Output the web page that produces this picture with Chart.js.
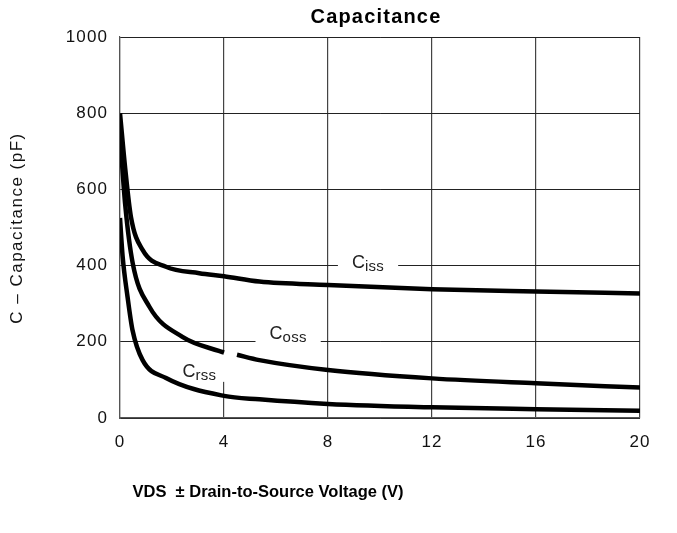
<!DOCTYPE html>
<html>
<head>
<meta charset="utf-8">
<script src="https://cdn.jsdelivr.net/npm/chart.js@4/dist/chart.umd.min.js"></script>
<style>
  html, body { margin: 0; padding: 0; background: #fff; }
  #wrap { width: 677px; height: 533px; }
</style>
</head>
<body>
<div id="wrap"><canvas id="cap" width="677" height="533"></canvas></div>
<script>
// values (x = VDS in V, y = capacitance in pF)
const cissV = [0, 0.2, 0.42, 0.87, 1.77, 3.05, 4, 5.36, 8, 12, 16, 20];
const cissC = [800, 655, 528, 441, 397, 380, 372, 358, 349, 338, 332, 327];

const cossV = [0, 0.2, 0.49, 1.13, 2.4, 3.8, 4.0, 4.25, 4.5, 5.36, 8, 12, 16, 20];
const cossC = [743, 560, 406, 292, 213, 176, 172, null, 166, 152, 126, 104, 91, 80];

const crssV = [0, 0.1, 0.29, 0.48, 0.87, 1.77, 4, 5.36, 8, 12, 16, 20];
const crssC = [525, 425, 318, 231, 152, 105, 58, 49, 37, 28, 23, 19];

const xTicks = [0, 4, 8, 12, 16, 20];
const yTicks = [0, 200, 400, 600, 800, 1000];

// curve labels: main letter, subscript, anchor (V, pF)
const labelMain = ['C', 'C', 'C'];
const labelSub = ['iss', 'oss', 'rss'];
const labelV = [8.92, 5.75, 2.4];
const labelC = [394, 207, 108];

const FONT = '"Liberation Sans", Arial, Helvetica, sans-serif';

const toPts = (xs, ys) => xs.map((v, i) => ({ x: v, y: ys[i] }));

const lineStyle = {
  borderColor: '#000',
  borderWidth: 4.5,
  pointRadius: 0,
  fill: false,
  cubicInterpolationMode: 'monotone',
  spanGaps: false
};

const textPlugin = {
  id: 'capText',
  beforeDraw(chart) {
    chart.ctx.letterSpacing = '1.1px';
  },
  beforeDatasetsDraw(chart) {
    const { ctx, scales: { x, y } } = chart;
    ctx.save();
    ctx.textBaseline = 'alphabetic';
    ctx.textAlign = 'left';
    labelMain.forEach((m, i) => {
      const px = x.getPixelForValue(labelV[i]);
      const py = y.getPixelForValue(labelC[i]);
      ctx.letterSpacing = '0px';
      ctx.font = '18px ' + FONT;
      const w1 = ctx.measureText(m).width;
      ctx.font = '15px ' + FONT;
      ctx.letterSpacing = '0.3px';
      const w2 = ctx.measureText(labelSub[i]).width;
      // white patch that breaks the grid lines under the label
      ctx.fillStyle = '#fff';
      ctx.fillRect(px - 14, py - 24, w1 + w2 + 28, 29);
      ctx.fillStyle = '#222';
      ctx.letterSpacing = '0px';
      ctx.font = '18px ' + FONT;
      ctx.fillText(m, px, py);
      ctx.letterSpacing = '0.3px';
      ctx.font = '15px ' + FONT;
      ctx.fillText(labelSub[i], px + w1, py + 3);
    });
    ctx.restore();
  },
  afterDraw(chart) {
    const { ctx } = chart;
    ctx.save();
    ctx.fillStyle = '#000';
    // title
    ctx.font = 'bold 20px ' + FONT;
    ctx.letterSpacing = '1.2px';
    ctx.textAlign = 'center';
    ctx.textBaseline = 'alphabetic';
    ctx.fillText('Capacitance', 376, 23);
    // x axis title
    ctx.font = 'bold 16.5px ' + FONT;
    ctx.letterSpacing = '0px';
    ctx.fillText('VDS  \u00b1 Drain-to-Source Voltage (V)', 268, 497);
    // y axis title
    ctx.translate(17, 228);
    ctx.rotate(-Math.PI / 2);
    ctx.font = '17px ' + FONT;
    ctx.letterSpacing = '1.5px';
    ctx.textBaseline = 'middle';
    ctx.fillStyle = '#111';
    ctx.fillText('C \u2013 Capacitance (pF)', 0, 0);
    ctx.restore();
  }
};

new Chart(document.getElementById('cap'), {
  type: 'line',
  data: {
    datasets: [
      { label: 'Ciss', data: toPts(cissV, cissC), ...lineStyle },
      { label: 'Coss', data: toPts(cossV, cossC), ...lineStyle },
      { label: 'Crss', data: toPts(crssV, crssC), ...lineStyle }
    ]
  },
  options: {
    responsive: false,
    animation: false,
    layout: { padding: { top: 37, right: 37, left: 0, bottom: 0 } },
    plugins: {
      legend: { display: false },
      tooltip: { enabled: false },
      title: { display: false }
    },
    scales: {
      x: {
        type: 'linear',
        min: 0,
        max: 20,
        afterFit: (s) => { s.height = 115; },
        afterBuildTicks: (s) => { s.ticks = xTicks.map(v => ({ value: v })); },
        grid: { color: '#444', lineWidth: 1.2, drawTicks: false },
        border: { color: '#555', width: 1.2 },
        ticks: { color: '#111', padding: 14, font: { family: FONT, size: 17 }, callback: (v) => String(v) }
      },
      y: {
        min: 0,
        max: 1000,
        afterFit: (s) => { s.width = 120; },
        afterBuildTicks: (s) => { s.ticks = yTicks.map(v => ({ value: v })); },
        grid: { color: '#222', lineWidth: 1, drawTicks: false },
        border: { color: '#555', width: 1.2 },
        ticks: { color: '#111', padding: 12, font: { family: FONT, size: 17 }, callback: (v) => String(v) }
      }
    }
  },
  plugins: [textPlugin]
});
</script>
</body>
</html>
